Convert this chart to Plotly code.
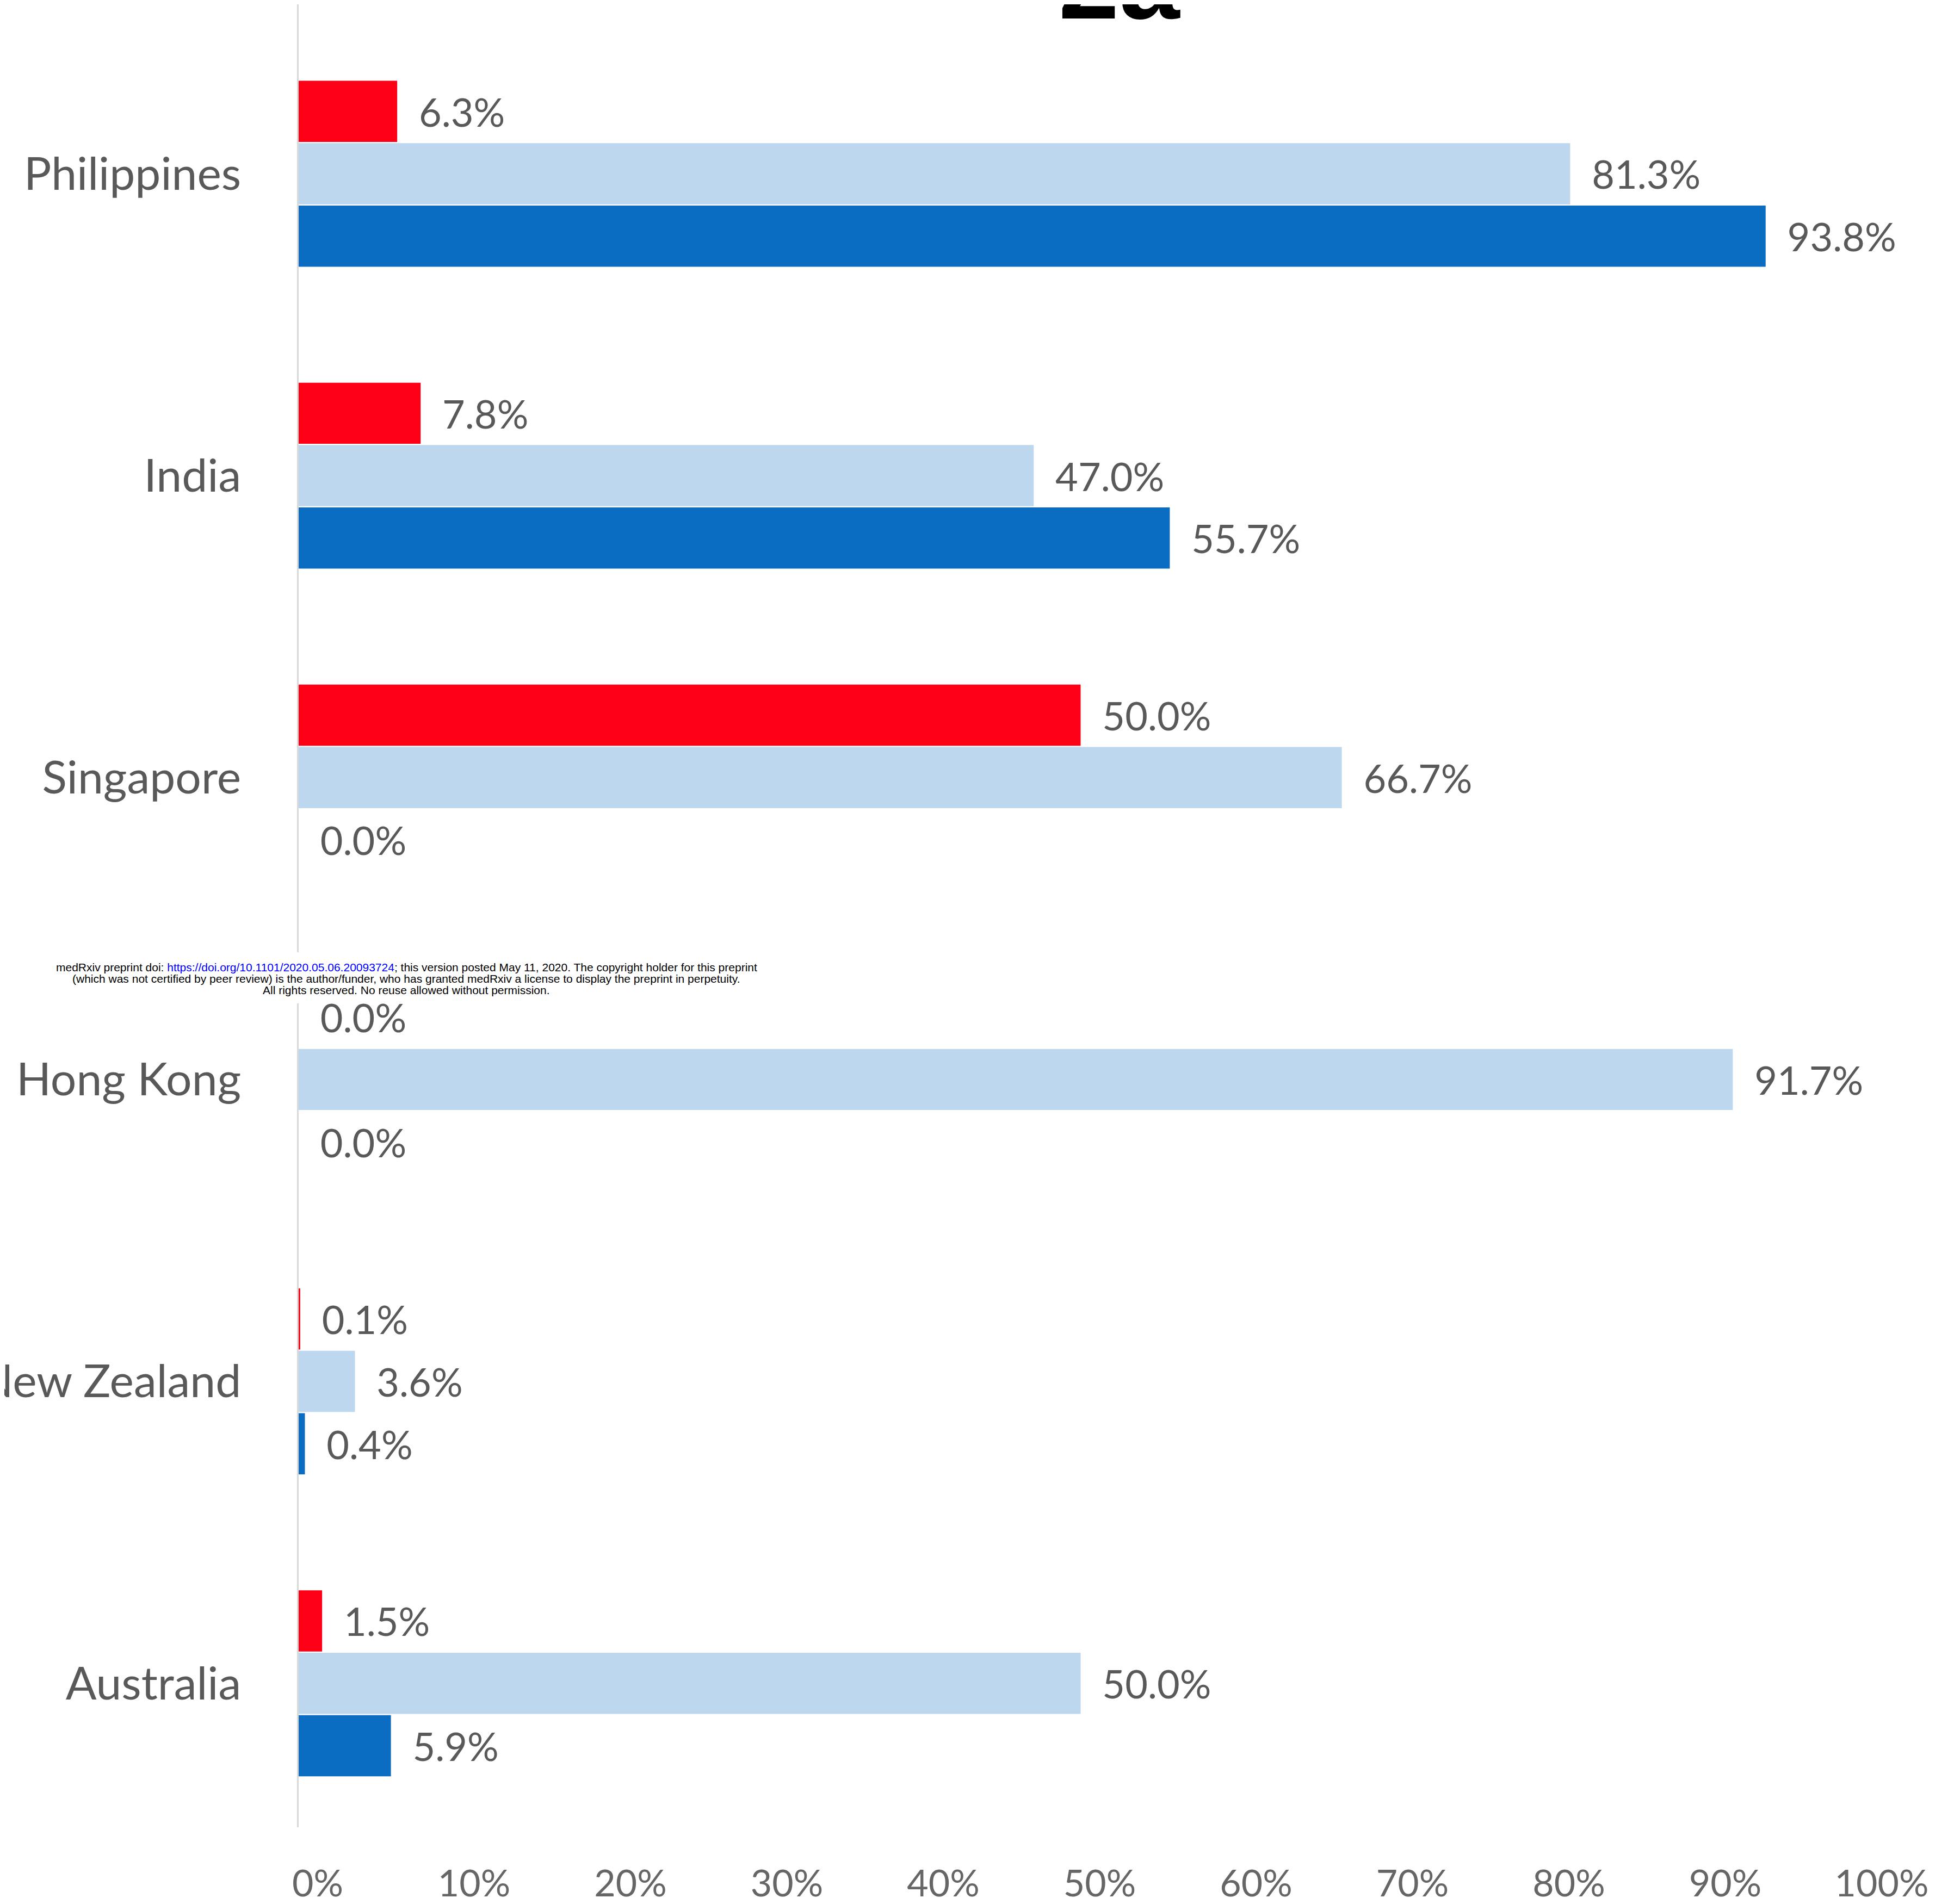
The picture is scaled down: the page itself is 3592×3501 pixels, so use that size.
import plotly.graph_objects as go

# country categories, top to bottom
countries = ["Philippines", "India", "Singapore", "Hong Kong", "New Zealand", "Australia"]

# series values (percent)
red_vals = [6.3, 7.8, 50.0, 0.0, 0.1, 1.5]
light_vals = [81.3, 47.0, 66.7, 91.7, 3.6, 50.0]
dark_vals = [93.8, 55.7, 0.0, 0.0, 0.4, 5.9]

tick_vals = [0, 10, 20, 30, 40, 50, 60, 70, 80, 90, 100]
tick_text = [f"{v}%" for v in tick_vals]

notice_lines = [
    "medRxiv preprint doi: <span style='color:#0000FF'>https://doi.org/10.1101/2020.05.06.20093724</span>; "
    "this version posted May 11, 2020. The copyright holder for this preprint",
    "(which was not certified by peer review) is the author/funder, who has granted medRxiv a license "
    "to display the preprint in perpetuity.",
    "All rights reserved. No reuse allowed without permission.",
]

series = [
    ("red", red_vals, "#FE0016"),
    ("light", light_vals, "#BDD7EE"),
    ("dark", dark_vals, "#0A6DC1"),
]

fig = go.Figure()
for name, vals, color in series:
    fig.add_trace(go.Bar(
        y=countries,
        x=vals,
        orientation="h",
        name=name,
        marker=dict(color=color, line=dict(width=0)),
        texttemplate="\u00a0\u00a0%{x:.1f}%",
        textposition="outside",
        constraintext="none",
        cliponaxis=False,
        textfont=dict(family="Lato", size=72, color="#595959"),
        showlegend=False,
    ))

fig.update_layout(
    width=3592,
    height=3501,
    margin=dict(l=541, r=176, t=0, b=149),
    paper_bgcolor="white",
    plot_bgcolor="white",
    barmode="group",
    bargap=0.38,
    bargroupgap=0.02,
    font=dict(family="Lato", color="#595959"),
)

fig.update_xaxes(
    range=[0, 100],
    tickvals=tick_vals,
    ticktext=tick_text,
    tickfont=dict(family="Lato", size=68, color="#666666"),
    showgrid=False,
    zeroline=False,
    showline=False,
    ticklabelstandoff=58,
    ticklabelshift=35,
)

fig.update_yaxes(
    type="category",
    categoryorder="array",
    categoryarray=countries,
    range=[5.477, -0.561],
    tickfont=dict(family="Lato", size=84, color="#595959"),
    showgrid=False,
    zeroline=False,
    showline=True,
    linecolor="#D9D9D9",
    linewidth=3,
    ticks="",
    ticklabelstandoff=86,
    automargin=False,
)

# partially cut figure title
fig.add_annotation(
    text="<b>2a</b>", x=0.525, y=0.979, xref="paper", yref="paper",
    xanchor="center", yanchor="bottom", showarrow=False,
    font=dict(family="Liberation Sans", size=200, color="black"),
)

# break in the axis line behind the preprint notice
fig.add_shape(
    type="rect", xref="paper", yref="paper",
    x0=-0.01, x1=0.01, y0=0.452, y1=0.480,
    fillcolor="white", line=dict(width=0), layer="above",
)

# preprint notice, one annotation per line for tight spacing
for line, ypos in zip(notice_lines, [0.4717, 0.4654, 0.4594]):
    fig.add_annotation(
        text=line, x=0.069, y=ypos, xref="paper", yref="paper",
        xanchor="center", yanchor="middle", align="center", showarrow=False,
        font=dict(family="Liberation Sans", size=21, color="black"),
    )

fig.write_html("out.html")
